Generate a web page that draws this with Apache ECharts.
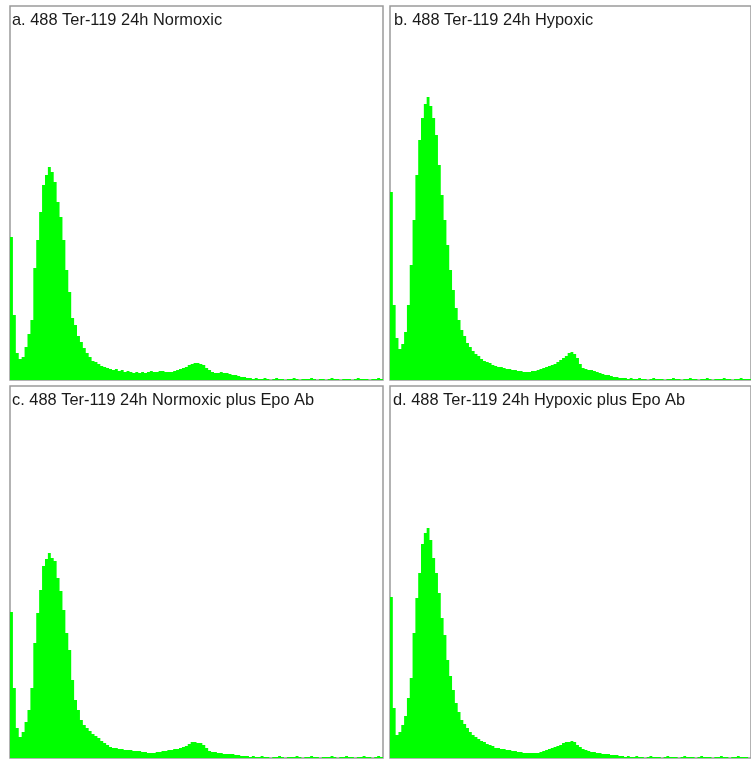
<!DOCTYPE html>
<html>
<head>
<meta charset="utf-8">
<script src="https://cdn.jsdelivr.net/npm/echarts@6/dist/echarts.min.js"></script>
<style>
html,body{margin:0;padding:0;background:#fff;}
#chart{width:751px;height:759px;}
</style>
</head>
<body>
<div id="chart"></div>
<script>
// Panel titles
const titles = [
  'a. 488 Ter-119 24h Normoxic',
  'b. 488 Ter-119 24h Hypoxic',
  'c. 488 Ter-119 24h Normoxic plus Epo Ab',
  'd. 488 Ter-119 24h Hypoxic plus Epo Ab'
];

// Histogram counts (128 bins, fluorescence channels pooled in pairs)
const normoxic = [
  143, 65, 27, 21, 23, 33, 46, 60, 112, 140,
  168, 195, 205, 213, 208, 198, 178, 163, 140, 110,
  88, 62, 55, 44, 38, 32, 27, 23, 19, 18,
  16, 14, 13, 12, 11, 10, 11, 9, 10, 8,
  9, 8, 7, 8, 7, 8, 7, 8, 9, 8,
  8, 9, 9, 8, 8, 8, 9, 10, 11, 12,
  13, 15, 16, 17, 17, 16, 15, 12, 10, 8,
  7, 7, 8, 7, 7, 6, 5, 5, 4, 3,
  3, 2, 2, 1, 2, 1, 1, 2, 1, 0,
  1, 2, 1, 1, 0, 1, 1, 2, 1, 0,
  1, 1, 1, 2, 1, 0, 1, 1, 0, 1,
  2, 1, 1, 0, 1, 1, 1, 0, 1, 2,
  1, 1, 1, 0, 1, 1, 2, 1
];
const hypoxic = [
  188, 75, 42, 31, 36, 48, 75, 115, 160, 205,
  240, 262, 276, 283, 274, 262, 245, 215, 185, 160,
  135, 110, 90, 72, 60, 50, 44, 37, 33, 29,
  26, 24, 21, 19, 18, 17, 15, 14, 13, 13,
  12, 11, 11, 10, 10, 9, 9, 8, 8, 8,
  9, 9, 10, 11, 12, 13, 14, 15, 16, 18,
  20, 22, 24, 27, 28, 26, 22, 16, 12, 11,
  10, 10, 9, 8, 7, 6, 5, 5, 4, 3,
  3, 2, 2, 2, 1, 2, 1, 1, 2, 1,
  1, 0, 1, 2, 1, 1, 1, 0, 1, 1,
  2, 1, 1, 0, 1, 1, 2, 1, 1, 0,
  1, 1, 2, 1, 0, 1, 1, 1, 2, 1,
  1, 0, 1, 1, 2, 1, 1, 1
];
const normoxicEpoAb = [
  146, 70, 30, 21, 26, 36, 48, 70, 115, 145,
  168, 192, 199, 205, 200, 197, 180, 167, 148, 125,
  108, 78, 58, 48, 38, 33, 30, 27, 24, 22,
  20, 17, 15, 13, 11, 10, 10, 9, 9, 8,
  8, 8, 7, 7, 7, 6, 6, 5, 5, 5,
  6, 6, 7, 7, 8, 8, 9, 9, 10, 11,
  12, 14, 16, 16, 15, 15, 13, 10, 7, 6,
  6, 5, 5, 4, 4, 4, 4, 3, 3, 2,
  2, 2, 1, 2, 1, 1, 2, 1, 1, 0,
  1, 1, 2, 1, 0, 1, 1, 1, 2, 1,
  0, 1, 1, 2, 1, 1, 0, 1, 1, 1,
  2, 1, 0, 1, 1, 2, 1, 1, 0, 1,
  1, 2, 1, 1, 0, 1, 2, 1
];
const hypoxicEpoAb = [
  161, 50, 23, 26, 33, 42, 60, 80, 125, 160,
  185, 214, 225, 230, 218, 200, 185, 165, 140, 123,
  98, 82, 68, 55, 46, 38, 34, 30, 26, 23,
  21, 19, 17, 16, 14, 13, 12, 10, 10, 9,
  9, 8, 8, 7, 7, 6, 6, 5, 5, 5,
  5, 5, 5, 6, 7, 8, 9, 10, 11, 12,
  13, 15, 16, 16, 17, 16, 13, 11, 9, 8,
  7, 6, 6, 5, 5, 4, 4, 4, 3, 3,
  3, 2, 2, 1, 2, 1, 1, 2, 1, 1,
  0, 1, 2, 1, 1, 1, 0, 1, 2, 1,
  1, 1, 0, 1, 2, 1, 1, 1, 0, 1,
  2, 1, 1, 1, 0, 1, 1, 2, 1, 1,
  0, 1, 1, 2, 1, 1, 1, 0
];

const channelBins = normoxic.map((_, i) => String(i * 2));
const seriesData = [normoxic, hypoxic, normoxicEpoAb, hypoxicEpoAb];

// layout (pixels)
const panels = [
  {left: 10,  top: 6,   width: 373, height: 374, yMax: 374, tx: 12,  ty: 12},
  {left: 390, top: 6,   width: 373, height: 374, yMax: 374, tx: 394, ty: 12},
  {left: 10,  top: 386, width: 373, height: 372, yMax: 372, tx: 12,  ty: 392},
  {left: 390, top: 386, width: 373, height: 372, yMax: 372, tx: 393, ty: 392}
];

const chart = echarts.init(document.getElementById('chart'), null, {renderer: 'canvas'});
const green = '#00ff00';
const option = {
  animation: false,
  backgroundColor: '#ffffff',
  title: panels.map((p, k) => ({
    text: titles[k],
    left: p.tx, top: p.ty, padding: 0,
    textStyle: {fontFamily: 'Liberation Sans, Arial, sans-serif', fontSize: 16.4, fontWeight: 'normal', color: '#1a1a1a'}
  })),
  grid: panels.map(p => ({
    left: p.left, top: p.top, width: p.width, height: p.height,
    show: true, borderColor: '#9a9a9a', borderWidth: 1.5, backgroundColor: 'transparent',
    containLabel: false
  })),
  xAxis: panels.map((p, k) => ({
    type: 'category', gridIndex: k, data: channelBins,
    axisLine: {show: false}, axisTick: {show: false}, axisLabel: {show: false}, splitLine: {show: false}
  })),
  yAxis: panels.map((p, k) => ({
    type: 'value', gridIndex: k, min: 0, max: p.yMax,
    axisLine: {show: false}, axisTick: {show: false}, axisLabel: {show: false}, splitLine: {show: false}
  })),
  series: seriesData.map((d, k) => ({
    type: 'bar', xAxisIndex: k, yAxisIndex: k, data: d,
    barWidth: '100%', barCategoryGap: '0%',
    large: true, largeThreshold: 0,
    itemStyle: {color: green},
    silent: true
  }))
};
chart.setOption(option);
</script>
</body>
</html>
